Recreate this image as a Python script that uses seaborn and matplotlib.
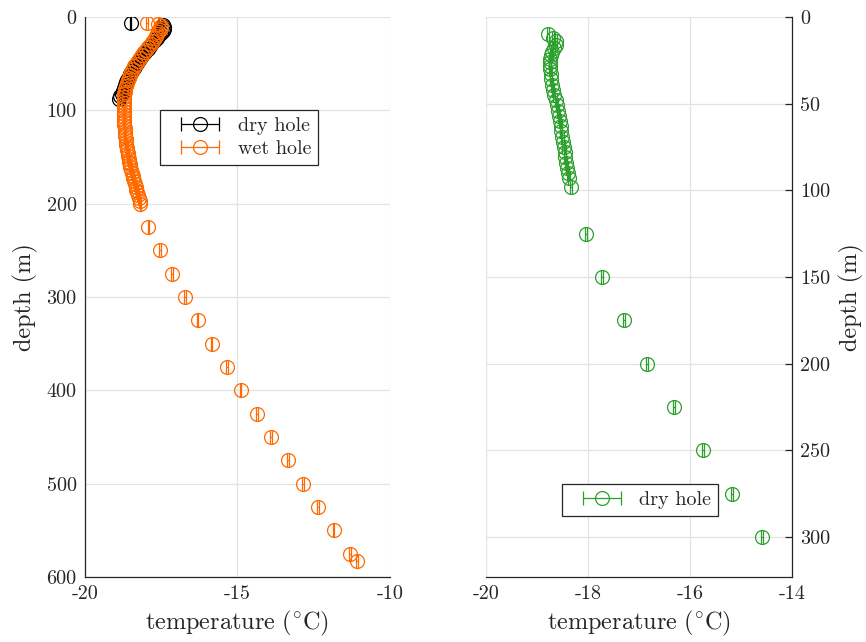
import matplotlib
matplotlib.use("Agg")
import matplotlib.pyplot as plt
from matplotlib.legend_handler import HandlerErrorbar
from matplotlib.container import ErrorbarContainer
import seaborn as sns

# left panel: dry hole (black)
dry_depth = [6, 9, 11, 13, 15, 17, 19, 22, 25, 28, 31, 34, 37, 40, 43, 46, 49,
             52, 55, 58, 61, 64, 67, 70, 73, 76, 79, 82, 85, 88]
dry_temp = [-18.5, -17.45, -17.42, -17.42, -17.45, -17.5, -17.56, -17.64, -17.72,
            -17.8, -17.87, -17.95, -18.02, -18.09, -18.16, -18.22, -18.29, -18.35,
            -18.41, -18.46, -18.51, -18.56, -18.61, -18.65, -18.69, -18.73, -18.76,
            -18.8, -18.84, -18.88]

# left panel: wet hole (orange)
wet_depth = [6, 8, 10, 12, 14, 16, 18, 20, 23, 26, 29, 32, 35, 38, 41, 44, 47, 50,
             53, 56, 59, 62, 65, 68, 71, 74, 77, 80, 83, 86, 89, 92, 95, 98, 101,
             104, 107, 110, 113, 116, 119, 122, 125, 128, 131, 134, 137, 140, 143,
             146, 149, 152, 155, 158, 161, 164, 167, 170, 173, 176, 179, 182, 185,
             188, 191, 194, 197, 200,
             225, 250, 275, 300, 325, 350, 375, 400, 425, 450, 475, 500, 525, 550,
             575, 583]
wet_temp = [-17.97, -17.6, -17.5, -17.5, -17.55, -17.6, -17.63, -17.66, -17.72,
            -17.78, -17.85, -17.92, -18.0, -18.07, -18.14, -18.2, -18.27, -18.33,
            -18.38, -18.43, -18.48, -18.52, -18.56, -18.6, -18.63, -18.66, -18.68,
            -18.7, -18.71, -18.72, -18.72, -18.72, -18.72, -18.72, -18.72, -18.72,
            -18.72, -18.72, -18.71, -18.71, -18.7, -18.7, -18.69, -18.68, -18.67,
            -18.66, -18.65, -18.63, -18.62, -18.6, -18.59, -18.57, -18.55, -18.53,
            -18.51, -18.49, -18.47, -18.44, -18.42, -18.39, -18.37, -18.34, -18.32,
            -18.29, -18.26, -18.24, -18.21, -18.19,
            -17.93, -17.54, -17.15, -16.72, -16.3, -15.84, -15.34, -14.89, -14.36,
            -13.9, -13.34, -12.85, -12.36, -11.84, -11.31, -11.08]

# right panel: dry hole (green)
green_depth = [10, 12, 14, 16, 18, 20, 22, 24, 26, 28, 30, 33, 36, 39, 42, 45, 48,
               51, 54, 57, 60, 63, 66, 69, 72, 75, 78, 81, 84, 87, 90, 93, 98,
               125, 150, 175, 200, 225, 250, 275, 300]
green_temp = [-18.78, -18.68, -18.62, -18.62, -18.66, -18.7, -18.72, -18.74, -18.75,
              -18.75, -18.74, -18.73, -18.72, -18.7, -18.68, -18.66, -18.63, -18.61,
              -18.59, -18.57, -18.55, -18.53, -18.52, -18.5, -18.49, -18.48, -18.46,
              -18.45, -18.43, -18.41, -18.39, -18.37, -18.33,
              -18.04, -17.73, -17.29, -16.84, -16.31, -15.75, -15.18, -14.59]

err = 0.02
FS = 14.5
LFS = 17.5

sns.set_theme(style="whitegrid")
plt.rcParams.update({
    "font.family": ["cmr10", "DejaVu Serif"],
    "mathtext.fontset": "cm",
    "axes.unicode_minus": False,
    "axes.formatter.use_mathtext": False,
    "font.size": FS,
    "axes.labelsize": LFS,
    "axes.edgecolor": "#262626",
    "axes.linewidth": 0.9,
    "grid.color": "#e3e3e3",
    "grid.linewidth": 0.9,
    "xtick.direction": "in",
    "ytick.direction": "in",
    "xtick.color": "#262626",
    "ytick.color": "#262626",
    "xtick.major.size": 5,
    "ytick.major.size": 5,
    "xtick.major.width": 0.9,
    "ytick.major.width": 0.9,
})

fig = plt.figure(figsize=(8.66, 6.42), dpi=100)
ax1 = fig.add_axes([0.0982, 0.1012, 0.352, 0.8723])
ax2 = fig.add_axes([0.5612, 0.1012, 0.3533, 0.8723])

style = dict(fmt="o", mfc="none", markersize=10, capsize=5, elinewidth=0.9,
             capthick=0.9, mew=0.9)
ax1.errorbar(dry_temp, dry_depth, xerr=err, color="black", label="dry hole", **style)
ax1.errorbar(wet_temp, wet_depth, xerr=err, color="#ff6a00", label="wet hole", **style)
ax2.errorbar(green_temp, green_depth, xerr=err, color="#2ca02c", label="dry hole", **style)

xlab = r"$\mathrm{temperature\ (^{\circ}C)}$"

ax1.set_xlim(-20, -10)
ax1.set_ylim(600, 0)
ax1.set_xticks([-20, -15, -10])
ax1.set_yticks([0, 100, 200, 300, 400, 500, 600])
ax1.set_xlabel(xlab, fontsize=LFS, labelpad=4)
ax1.set_ylabel("depth (m)", fontsize=LFS, labelpad=6)

ax2.set_xlim(-20, -14)
ax2.set_ylim(323, 0)
ax2.set_xticks([-20, -18, -16, -14])
ax2.set_yticks([0, 50, 100, 150, 200, 250, 300])
ax2.yaxis.tick_right()
ax2.yaxis.set_label_position("right")
ax2.set_xlabel(xlab, fontsize=LFS, labelpad=4)
ax2.set_ylabel("depth (m)", fontsize=LFS, labelpad=6)

for ax in (ax1, ax2):
    ax.set_facecolor("white")
    ax.tick_params(axis="both", labelsize=FS, pad=6)
    ax.set_axisbelow(True)

sns.despine(ax=ax1, top=True, right=True)
ax2.spines["top"].set_visible(False)
ax2.spines["left"].set_visible(False)
ax2.spines["right"].set_visible(True)

leg_kw = dict(loc="upper left", fancybox=False, framealpha=1, edgecolor="#262626",
              fontsize=FS, handlelength=3.3, borderpad=0.35, labelspacing=0.25,
              handletextpad=0.2, borderaxespad=0,
              handler_map={ErrorbarContainer: HandlerErrorbar(xerr_size=0.95)})
l1 = ax1.legend(bbox_to_anchor=(0.246, 0.834), **leg_kw)
l2 = ax2.legend(bbox_to_anchor=(0.248, 0.166), **leg_kw)
for lg in (l1, l2):
    lg.get_frame().set_linewidth(0.9)

fig.savefig("out.png", dpi=100)
